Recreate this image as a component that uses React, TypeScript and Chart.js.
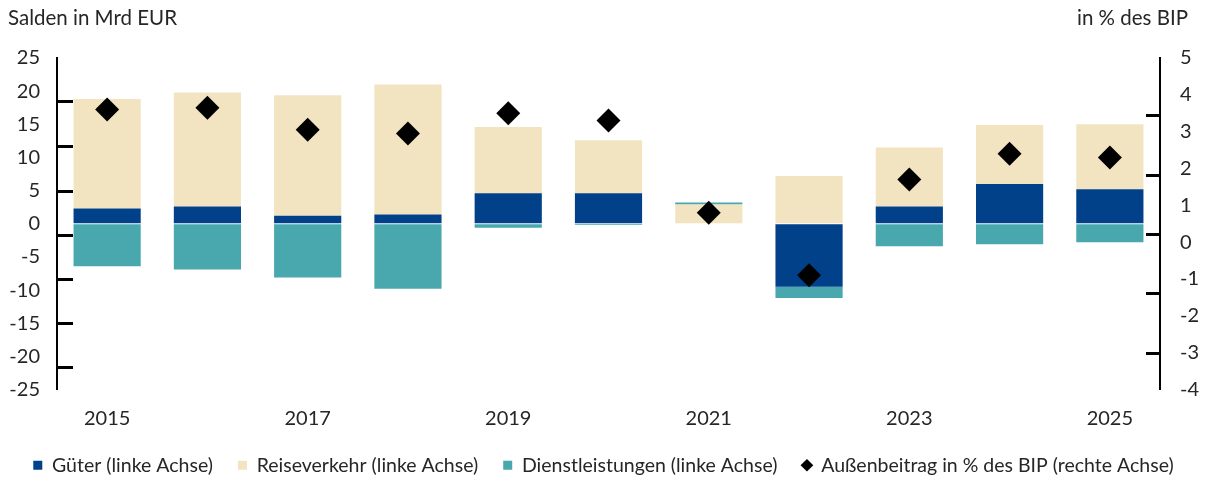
import React, { useEffect, useRef } from 'react';
import { Chart, registerables } from 'chart.js';

Chart.register(...registerables);

const years = ['2015', '2016', '2017', '2018', '2019', '2020', '2021', '2022', '2023', '2024', '2025'];
const gueter = [2.3, 2.6, 1.2, 1.4, 4.6, 4.6, 0, -9.5, 2.6, 6.0, 5.2];
const reiseverkehr = [16.5, 17.2, 18.2, 19.6, 10.0, 8.0, 2.9, 7.2, 8.9, 8.9, 9.8];
const dienstleistungen = [-6.4, -6.9, -8.1, -9.8, -0.6, -0.2, 0.3, -1.7, -3.4, -3.1, -2.8];
const aussenbeitrag = [3.6, 3.65, 3.05, 2.95, 3.5, 3.3, 0.8, -0.9, 1.7, 2.4, 2.3];

const leftTickMarks = [18.5, 11.8, 5.0, -1.7, -8.4, -15.0, -21.6];
const rightTickMarks = [3.45, 1.83, 0.22, -1.38, -3.0];

const seriesLabels = [
  'Güter (linke Achse)',
  'Reiseverkehr (linke Achse)',
  'Dienstleistungen (linke Achse)',
  'Außenbeitrag in % des BIP (rechte Achse)',
];
const leftTitle = 'Salden in Mrd EUR';
const rightTitle = 'in % des BIP';

const FONT = 'Lato, "Open Sans", sans-serif';
const TEXT = '#262626';

const decorPlugin = {
  id: 'decor',
  afterDatasetsDraw(chart: any) {
    const { ctx, chartArea, scales } = chart;
    ctx.save();
    ctx.strokeStyle = '#000';
    ctx.lineWidth = 3;
    leftTickMarks.forEach((v) => {
      const y = Math.round(scales.y.getPixelForValue(v)) + 0.5;
      ctx.beginPath();
      ctx.moveTo(chartArea.left, y);
      ctx.lineTo(chartArea.left + 16, y);
      ctx.stroke();
    });
    rightTickMarks.forEach((v) => {
      const y = Math.round(scales.y1.getPixelForValue(v)) + 0.5;
      ctx.beginPath();
      ctx.moveTo(chartArea.right - 14, y);
      ctx.lineTo(chartArea.right, y);
      ctx.stroke();
    });
    ctx.font = `20.5px ${FONT}`;
    ctx.fillStyle = TEXT;
    ctx.textBaseline = 'middle';
    ctx.textAlign = 'left';
    ctx.fillText(leftTitle, scales.y.left, chartArea.top - 40);
    ctx.textAlign = 'right';
    ctx.fillText(rightTitle, scales.y1.right - 11, chartArea.top - 40);
    ctx.restore();
  },
};

export default function App() {
  const ref = useRef<HTMLCanvasElement | null>(null);

  useEffect(() => {
    if (!ref.current) return;
    const chart = new Chart(ref.current, {
      type: 'bar',
      data: {
        labels: years,
        datasets: [
          {
            label: seriesLabels[0],
            data: gueter,
            backgroundColor: '#00418A',
            yAxisID: 'y',
            order: 1,
            categoryPercentage: 1,
            barPercentage: 0.67,
          } as any,
          {
            label: seriesLabels[1],
            data: reiseverkehr,
            backgroundColor: '#F2E4C0',
            yAxisID: 'y',
            order: 1,
            categoryPercentage: 1,
            barPercentage: 0.67,
          },
          {
            label: seriesLabels[2],
            data: dienstleistungen,
            backgroundColor: '#48A8AE',
            yAxisID: 'y',
            order: 1,
            categoryPercentage: 1,
            barPercentage: 0.67,
          },
          {
            type: 'line',
            label: seriesLabels[3],
            data: aussenbeitrag,
            yAxisID: 'y1',
            showLine: false,
            pointStyle: 'rectRot',
            pointRadius: 12,
            pointHoverRadius: 12,
            pointBackgroundColor: '#000',
            pointBorderColor: '#000',
            pointBorderWidth: 0,
            backgroundColor: '#000',
            borderColor: '#000',
            order: 0,
          },
        ],
      },
      options: {
        animation: false,
        responsive: true,
        maintainAspectRatio: false,
        layout: { autoPadding: false, padding: { top: 58, left: 8, right: 10, bottom: -8 } },
        plugins: {
          tooltip: { enabled: false },
          legend: {
            position: 'bottom',
            labels: {
              font: { family: FONT, size: 19.5 },
              color: TEXT,
              boxWidth: 9,
              boxHeight: 9,
              padding: 25,
              usePointStyle: true,
              generateLabels: (chart: any) => {
                const items = Chart.defaults.plugins.legend.labels.generateLabels(chart);
                return items
                  .slice()
                  .sort((a: any, b: any) => a.datasetIndex - b.datasetIndex)
                  .map((it: any) => ({
                    ...it,
                    pointStyle: it.datasetIndex === 3 ? 'rectRot' : 'rect',
                    lineWidth: 0,
                    strokeStyle: 'transparent',
                  }));
              },
            },
          },
        },
        scales: {
          x: {
            stacked: true,
            grid: { display: true, drawOnChartArea: false, drawTicks: true, tickLength: 17, tickColor: 'rgba(0,0,0,0)' },
            border: { display: false },
            ticks: {
              autoSkip: false,
              maxRotation: 0,
              padding: 0,
              color: TEXT,
              font: { family: FONT, size: 20 },
              callback: (_v: any, i: number) => (i % 2 === 0 ? years[i] : ''),
            },
          },
          y: {
            type: 'linear',
            position: 'left',
            stacked: true,
            min: -25,
            max: 25,
            grid: { display: true, drawOnChartArea: false, drawTicks: false },
            border: { display: true, color: '#000', width: 2 },
            ticks: {
              stepSize: 5,
              padding: 17,
              color: TEXT,
              font: { family: FONT, size: 20 },
            },
            afterFit: (scale: any) => {
              scale.width = 49;
            },
          },
          y1: {
            type: 'linear',
            position: 'right',
            stacked: false,
            min: -4,
            max: 5,
            grid: { display: true, drawOnChartArea: false, drawTicks: false },
            border: { display: true, color: '#000', width: 2 },
            ticks: {
              stepSize: 1,
              padding: 20,
              color: TEXT,
              font: { family: FONT, size: 20 },
            },
            afterFit: (scale: any) => {
              scale.width = 39;
            },
          },
        },
      },
      plugins: [decorPlugin],
    });
    return () => chart.destroy();
  }, []);

  return (
    <div style={{ position: 'fixed', left: 0, top: 0, width: 1209, height: 477 }}>
      <canvas ref={ref} />
    </div>
  );
}
